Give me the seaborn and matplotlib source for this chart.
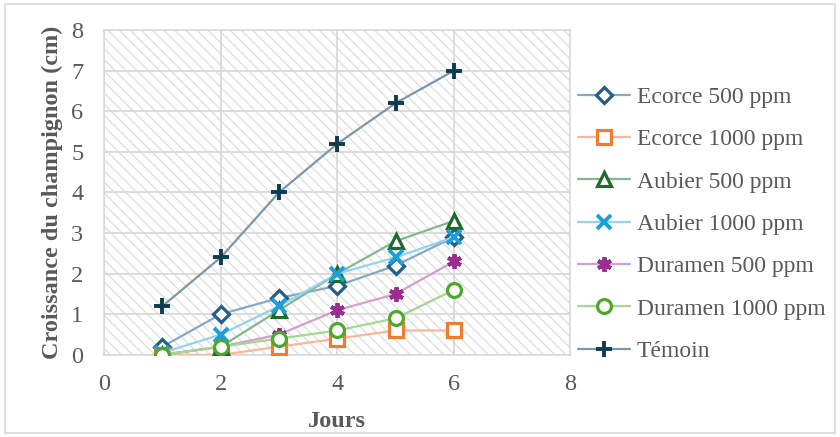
import numpy as np
import pandas as pd
import seaborn as sns
import matplotlib.pyplot as plt

days = [1, 2, 3, 4, 5, 6]
ecorce_500 = [0.2, 1.0, 1.4, 1.7, 2.2, 2.9]
ecorce_1000 = [0.0, 0.0, 0.2, 0.4, 0.6, 0.6]
aubier_500 = [0.0, 0.2, 1.1, 2.0, 2.8, 3.3]
aubier_1000 = [0.05, 0.5, 1.2, 2.0, 2.4, 2.9]
duramen_500 = [0.0, 0.2, 0.5, 1.1, 1.5, 2.3]
duramen_1000 = [0.0, 0.2, 0.4, 0.6, 0.9, 1.6]
temoin = [1.2, 2.4, 4.0, 5.2, 6.2, 7.0]

labels = ["Ecorce 500 ppm", "Ecorce 1000 ppm", "Aubier 500 ppm", "Aubier 1000 ppm",
          "Duramen 500 ppm", "Duramen 1000 ppm", "Témoin"]
series = [ecorce_500, ecorce_1000, aubier_500, aubier_1000, duramen_500, duramen_1000, temoin]

# (marker, marker colour, line colour, marker size)
styles = [
    ("D", "#215F8B", "#86A9C2", 8),
    ("s", "#ED7D31", "#F5B89C", 9.5),
    ("^", "#1D6B2B", "#86B590", 10),
    ("x", "#1AA1DC", "#93D3F0", 9.5),
    ((6, 2, 0), "#9B2D8E", "#D29FCE", 10.5),
    ("o", "#4EA72E", "#A6D693", 10),
    ("+", "#0F3B50", "#7D97A7", 11.5),
]

sns.set_theme(style="white")
plt.rcParams["font.family"] = ["Liberation Serif", "DejaVu Serif"]
plt.rcParams["hatch.color"] = "#E0E0E0"
plt.rcParams["hatch.linewidth"] = 1.0

fig = plt.figure(figsize=(8.4, 4.37), dpi=100)
fig.patches.append(plt.Rectangle((0.006, 0.009), 0.988, 0.982, transform=fig.transFigure,
                                 fill=False, edgecolor="#D9D9D9", linewidth=1.2))
ax = fig.add_axes([0.124, 0.188, 0.555, 0.743])
ax.add_patch(plt.Rectangle((0, 0), 8, 8, facecolor="white", edgecolor="#E0E0E0",
                           linewidth=0, hatch="\\\\\\", zorder=0))

for lab, vals, (m, mc, lc, ms) in zip(labels, series, styles):
    df = pd.DataFrame({"Jours": days, "val": vals})
    thin = m in ("x", "+") or isinstance(m, tuple)
    sns.lineplot(data=df, x="Jours", y="val", ax=ax, color=lc, linewidth=1.6,
                 marker=m, markersize=ms, markeredgecolor=mc,
                 markerfacecolor=mc if thin else "white",
                 markeredgewidth=2.8 if thin else 2.3, label=lab, zorder=3)

ax.set_xlim(0, 8)
ax.set_ylim(0, 8)
ax.set_xticks(range(0, 9, 2))
ax.set_yticks(range(0, 9))
ax.grid(True, color="#D9D9D9", linewidth=1.3, zorder=1)
ax.set_axisbelow(True)
for s in ax.spines.values():
    s.set_color("#D9D9D9")
    s.set_linewidth(1.2)
ax.tick_params(length=0, labelsize=17.5, labelcolor="#595959")
ax.tick_params(axis="y", pad=15)
ax.tick_params(axis="x", pad=14)
ax.set_xlabel("Jours", fontsize=17.5, fontweight="bold", color="#595959", labelpad=11)
ax.set_ylabel("Croissance du champignon (cm)", fontsize=17.5, fontweight="bold",
              color="#595959", labelpad=6)

ax.get_legend().remove()
h, l = ax.get_legend_handles_labels()
fig.legend(h, l, loc="center left", bbox_to_anchor=(0.688, 0.487), frameon=False,
           borderpad=0, borderaxespad=0,
           fontsize=17, labelcolor="#595959", handlelength=2.2, handletextpad=0.3,
           labelspacing=0.88)

fig.savefig("out.png", dpi=100)
